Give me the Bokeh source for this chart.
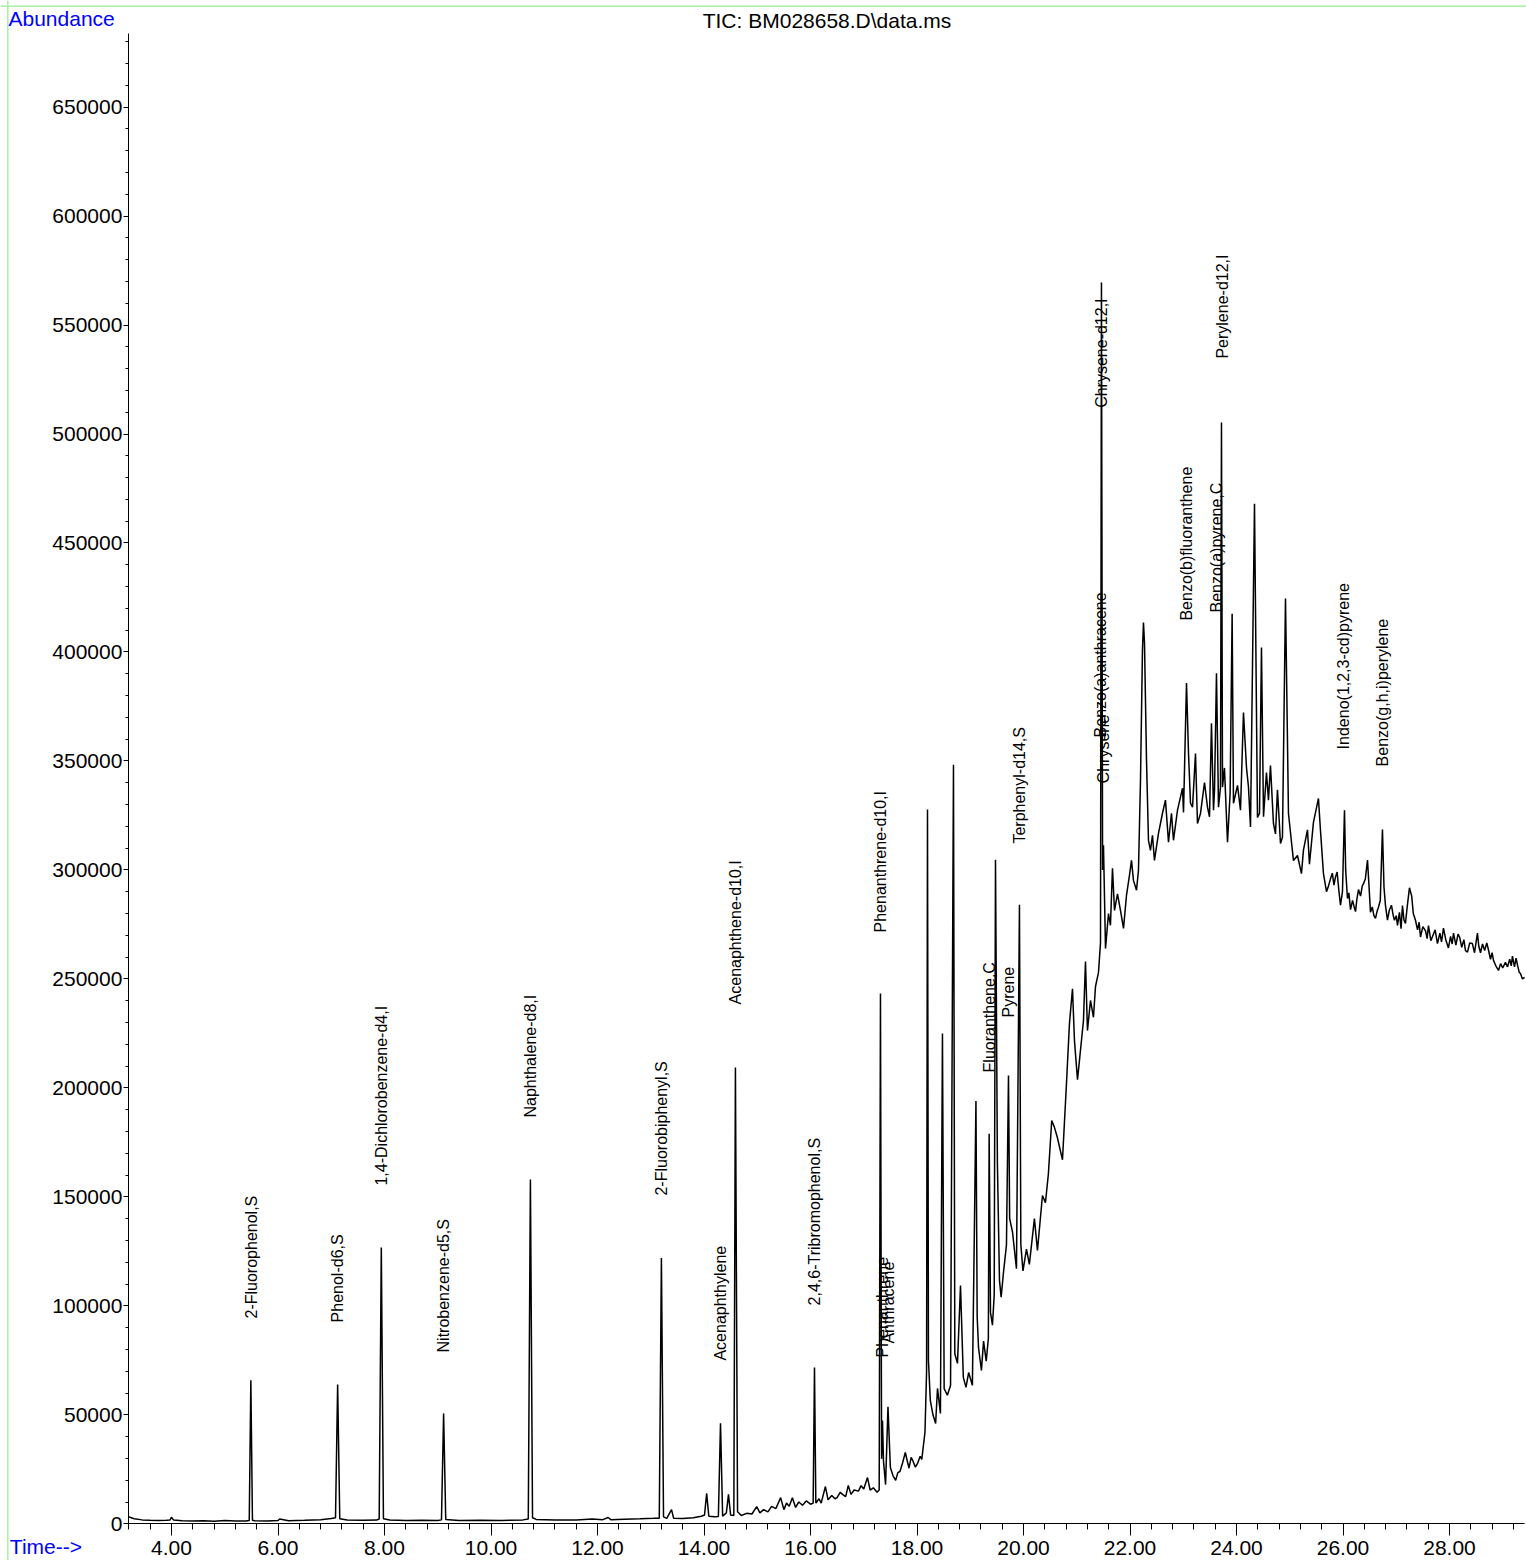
import math
from bokeh.plotting import figure
from bokeh.models import Range1d, SingleIntervalTicker, NumeralTickFormatter, Label, ColumnDataSource, Span
from bokeh.core.properties import value
from bokeh.embed import file_html
from bokeh.resources import INLINE

FONT = "Liberation Sans"

# ---- TIC trace (retention time in min, abundance) ----
rt1 = [3.19, 3.30, 3.45, 3.60, 3.75, 3.90, 3.97, 4.00, 4.04, 4.20,
       4.40, 4.60, 4.80, 5.00, 5.20, 5.40, 5.46, 5.49, 5.52, 5.56,
       5.80, 6.00, 6.03, 6.20, 6.50, 6.80, 7.00, 7.08, 7.12, 7.16,
       7.30, 7.60, 7.85, 7.90, 7.94, 7.98, 8.10, 8.40, 8.70, 9.00,
       9.07, 9.11, 9.15, 9.40, 9.80, 10.20, 10.60, 10.70, 10.74, 10.78,
       10.85, 11.20, 11.60, 11.90, 12.10, 12.20, 12.25, 12.50, 12.80, 13.05,
       13.16, 13.20, 13.24, 13.30, 13.39, 13.43, 13.60, 13.80, 13.95]
ab1 = [3200, 2300, 1800, 1600, 1500, 1600, 1700, 3000, 1700, 1400,
       1300, 1400, 1200, 1500, 1300, 1300, 1500, 65800, 1600, 1400,
       1300, 1500, 2200, 1400, 1600, 1900, 2400, 2800, 63900, 2300,
       1700, 1600, 1700, 2200, 126800, 2300, 1700, 1500, 1600, 1500,
       1800, 50600, 2000, 1500, 1600, 1500, 1800, 2200, 158000, 2800,
       2000, 1700, 1800, 2200, 1900, 2900, 1900, 2100, 2300, 2500,
       2600, 122000, 3200, 2500, 6500, 2500, 2400, 2800, 3500]

rt2 = [14.01, 14.05, 14.09, 14.20, 14.27, 14.31, 14.35, 14.42, 14.46, 14.50,
       14.56, 14.59, 14.63, 14.70, 14.80, 14.90, 14.99, 15.05, 15.12, 15.20,
       15.27, 15.35, 15.44, 15.50, 15.55, 15.60, 15.66, 15.72, 15.78, 15.85,
       15.92, 16.00, 16.05, 16.075, 16.10, 16.16, 16.20, 16.28, 16.33, 16.40,
       16.46, 16.50, 16.56, 16.60, 16.66, 16.71, 16.76, 16.82, 16.90, 16.95,
       17.00, 17.07, 17.12, 17.18, 17.25, 17.29, 17.314, 17.335, 17.352, 17.37,
       17.41, 17.455, 17.50, 17.55, 17.60, 17.64, 17.68, 17.73, 17.78, 17.85,
       17.89, 17.92, 17.97, 18.01, 18.06, 18.09, 18.12, 18.15]
ab2 = [4000, 14000, 3500, 3200, 3400, 46100, 3500, 5000, 13500, 4000,
       3800, 209300, 5500, 3800, 4800, 4500, 7900, 5000, 6500, 5500,
       8000, 7000, 12000, 6500, 9500, 8000, 12000, 7500, 10000, 8500,
       10500, 9000, 9500, 71700, 9500, 11500, 9500, 17100, 11000, 13000,
       11500, 12000, 14500, 13500, 12500, 17600, 13500, 15500, 15000, 17500,
       16000, 21200, 15500, 16500, 14500, 15500, 243300, 29800, 47400, 29000,
       18000, 53700, 25800, 22000, 19900, 23500, 24000, 28000, 32700, 25500,
       30500, 29000, 26000, 27700, 31000, 29500, 35900, 42000]

rt3 = [18.18, 18.197, 18.215, 18.25, 18.30, 18.35, 18.385, 18.44, 18.478, 18.51,
       18.57, 18.63, 18.685, 18.71, 18.76, 18.817, 18.87, 18.92, 18.97, 19.04,
       19.075, 19.107, 19.13, 19.155, 19.21, 19.25, 19.30, 19.34, 19.355, 19.38,
       19.417, 19.45, 19.474, 19.51, 19.549, 19.58, 19.624, 19.68, 19.718, 19.74,
       19.793, 19.868, 19.924, 19.95, 19.99, 20.056, 20.11, 20.205, 20.262, 20.356,
       20.412, 20.468, 20.53, 20.58, 20.638, 20.732, 20.807, 20.863, 20.92, 20.957,
       21.014, 21.051, 21.126, 21.164, 21.201, 21.258, 21.314, 21.352, 21.408, 21.446,
       21.464, 21.485, 21.502]
ab3 = [70000, 327700, 75000, 56600, 50000, 46000, 62100, 50600, 225000, 62000,
       59000, 63500, 348300, 78000, 73600, 109300, 67200, 62600, 69400, 63500,
       130000, 194000, 95000, 80900, 70400, 83800, 74600, 85000, 179000, 97000,
       91100, 105000, 304700, 165300, 111700, 104000, 115300, 128000, 205700, 140000,
       134000, 117000, 284000, 128000, 116000, 126000, 119000, 140000, 125400, 150600,
       147300, 160700, 185000, 182000, 177000, 167000, 202000, 229500, 245500, 221700,
       203800, 212600, 230800, 258000, 226300, 240100, 232400, 246500, 252900, 266600,
       569500, 300000, 311300]

rt4 = [21.54, 21.596, 21.633, 21.671, 21.709, 21.765, 21.821, 21.878, 21.934, 21.99,
       22.028, 22.065, 22.122, 22.159, 22.197, 22.234, 22.253, 22.272, 22.31, 22.347,
       22.384, 22.422, 22.459, 22.535, 22.61, 22.666, 22.723, 22.779, 22.816, 22.892,
       22.986, 23.005, 23.061, 23.099, 23.136, 23.174, 23.23, 23.267, 23.324, 23.399,
       23.455, 23.493, 23.53, 23.568, 23.587, 23.624, 23.662, 23.699, 23.718, 23.737,
       23.774, 23.831, 23.88, 23.918, 23.943, 24.019, 24.075, 24.131, 24.188, 24.225,
       24.263, 24.338, 24.394, 24.432, 24.469, 24.507, 24.563, 24.60, 24.638, 24.694,
       24.732, 24.769, 24.826, 24.863, 24.92, 24.976, 25.033, 25.07, 25.145, 25.22,
       25.258, 25.333, 25.37, 25.445, 25.539, 25.577, 25.633, 25.69]
ab4 = [264000, 280000, 274600, 300700, 281400, 289000, 281400, 273200, 288300, 297500,
       304400, 295200, 290700, 299800, 341100, 400700, 413500, 404300, 350300, 313600,
       309000, 315900, 304400, 316800, 326000, 332000, 312700, 326000, 313600, 327400,
       337500, 326400, 385700, 353400, 330600, 328800, 353400, 321300, 325900, 340100,
       328800, 324400, 367300, 327400, 336600, 390200, 328800, 338000, 505300, 338000,
       346800, 312700, 335000, 417500, 330600, 338800, 327400, 372200, 346800, 338000,
       319700, 468000, 324100, 325900, 402000, 324400, 344700, 332000, 347900, 321300,
       316500, 336800, 312100, 315000, 424500, 325900, 312700, 304300, 306600, 298300,
       309200, 318400, 302600, 321800, 332800, 318100, 298300, 290000]

rt4b = [25.72, 25.765, 25.80, 25.83, 25.859, 25.89, 25.92, 25.953, 25.99, 26.028,
        26.05, 26.084, 26.11, 26.141, 26.18, 26.21, 26.235, 26.26, 26.291, 26.33,
        26.36, 26.385, 26.42, 26.46, 26.49, 26.516, 26.55, 26.58, 26.61, 26.64,
        26.666, 26.70, 26.741, 26.77, 26.797, 26.835, 26.87, 26.91, 26.94, 26.966,
        27.00]
ab4b = [292000, 295900, 298500, 293000, 296800, 299000, 291000, 283800, 290000, 327400,
        300000, 286900, 289500, 281800, 286000, 283000, 280900, 286500, 291000, 288000,
        292500, 293700, 296000, 304500, 292000, 280600, 283000, 279000, 277800, 281000,
        282900, 286000, 318500, 292000, 283800, 277000, 281500, 283800, 279500, 276900,
        279000]

rt5 = [27.023, 27.06, 27.09, 27.117, 27.145, 27.173, 27.21, 27.248, 27.29, 27.32,
       27.361, 27.40, 27.43, 27.455, 27.50, 27.55, 27.58, 27.605, 27.65, 27.69,
       27.73, 27.774, 27.82, 27.85, 27.887, 27.93, 27.98, 28.02, 28.05, 28.075,
       28.12, 28.16, 28.19, 28.23, 28.27, 28.30, 28.338, 28.38, 28.43, 28.47,
       28.50, 28.525, 28.55, 28.582, 28.62, 28.66, 28.70, 28.73, 28.77, 28.80,
       28.826, 28.87, 28.92, 28.96, 29.00, 29.05, 29.09, 29.13, 29.16, 29.182,
       29.22, 29.25, 29.28, 29.31, 29.333, 29.37, 29.41]
ab5 = [274500, 280500, 273000, 283600, 277000, 275400, 284000, 291800, 288000, 280000,
       276900, 272500, 276000, 269200, 274000, 272000, 268500, 274500, 267500, 270000,
       272500, 266200, 271000, 267000, 273300, 268000, 264200, 269500, 266000, 271000,
       265500, 270500, 269200, 264500, 268000, 263000, 262300, 266500, 266200, 262000,
       267000, 271000, 265000, 262000, 266000, 263000, 266500, 263500, 259000, 262000,
       258500, 256000, 253900, 257000, 255000, 257600, 255500, 259000, 256000, 260500,
       255500, 259500, 256000, 253000, 252500, 250000, 250700]

# ---- compound annotations (retention time, abundance at label start) ----
compounds = ["2-Fluorophenol,S", "Phenol-d6,S", "1,4-Dichlorobenzene-d4,I", "Nitrobenzene-d5,S",
             "Naphthalene-d8,I", "2-Fluorobiphenyl,S", "Acenaphthylene", "Acenaphthene-d10,I",
             "2,4,6-Tribromophenol,S", "Phenanthrene-d10,I", "Phenanthrene", "Anthracene",
             "Fluoranthene,C", "Pyrene", "Terphenyl-d14,S", "Chrysene-d12,I",
             "Benzo(a)anthracene", "Chrysene", "Benzo(b)fluoranthene", "Benzo(a)pyrene,C",
             "Perylene-d12,I", "Indeno(1,2,3-cd)pyrene", "Benzo(g,h,i)perylene"]
label_rt = [5.50, 7.117, 7.944, 9.108, 10.742, 13.202, 14.309, 14.591,
            16.075, 17.314, 17.351, 17.464, 19.361, 19.718, 19.925, 21.464,
            21.446, 21.502, 23.061, 23.624, 23.737, 26.018, 26.741]
label_ab = [94200, 92400, 155200, 78600, 186400, 150600, 74900, 238300,
            100200, 271300, 76300, 82700, 207100, 232300, 312100, 512000,
            360800, 339700, 414400, 418100, 534600, 355300, 347500]

rt = rt1 + rt2 + rt3 + rt4 + rt4b + rt5
abundance = ab1 + ab2 + ab3 + ab4 + ab4b + ab5
assert len(rt) == len(abundance)

# axis extents
RT_START, RT_END = 3.19, 29.41
AB_MAX = 683600

# the frame covers the whole canvas; axes are drawn at fixed locations inside it
p = figure(width=1526, height=1560, output_backend="svg", toolbar_location=None,
           title=None, x_range=Range1d(0.7887, 29.446), y_range=Range1d(-16838, 698890),
           min_border=0, min_border_left=0, min_border_right=0,
           min_border_top=0, min_border_bottom=0,
           background_fill_color="white", border_fill_color="white")
p.outline_line_color = None
p.xgrid.visible = False
p.ygrid.visible = False

p.xaxis.ticker = SingleIntervalTicker(interval=2, num_minor_ticks=5)
p.xaxis.formatter = NumeralTickFormatter(format="0.00")
p.yaxis.ticker = SingleIntervalTicker(interval=50000, num_minor_ticks=5)
p.yaxis.formatter = NumeralTickFormatter(format="0")
p.xaxis.fixed_location = 0
p.xaxis.bounds = (RT_START, RT_END)
p.yaxis.fixed_location = RT_START
p.yaxis.bounds = (0, AB_MAX)

for ax in (p.xaxis[0], p.yaxis[0]):
    ax.axis_line_color = "black"
    ax.axis_line_width = 1
    ax.major_tick_line_color = "black"
    ax.minor_tick_line_color = "black"
    ax.major_tick_in = 0
    ax.minor_tick_in = 0
    ax.major_label_text_font = FONT
    ax.major_label_text_font_size = "21px"
    ax.major_label_text_color = "black"

p.xaxis.major_tick_out = 12
p.xaxis.minor_tick_out = 6
p.xaxis.major_label_standoff = 5
p.yaxis.major_tick_out = 5
p.yaxis.minor_tick_out = 3
p.yaxis.major_label_standoff = 1

# light green page frame
p.add_layout(Span(location=0.926, dimension="height", line_color="#a8f0a8", line_width=1.5))
p.add_layout(Span(location=696300, dimension="width", line_color="#a8f0a8", line_width=1.5))

p.line(rt, abundance, line_color="black", line_width=1.5)

src = ColumnDataSource(dict(x=label_rt, y=label_ab, t=compounds))
p.text(x="x", y="y", text="t", source=src, angle=math.pi / 2,
       text_align="left", text_baseline="middle",
       text_font=value(FONT), text_font_size="16px", text_color="black")

p.add_layout(Label(x=0.939, y=690630, text="Abundance", text_color="#0000ff",
                   text_font=FONT, text_font_size="21px",
                   text_align="left", text_baseline="alphabetic"))
p.add_layout(Label(x=16.31, y=689570, text="TIC: BM028658.D\\data.ms", text_color="black",
                   text_font=FONT, text_font_size="21px",
                   text_align="center", text_baseline="alphabetic"))
p.add_layout(Label(x=0.964, y=-10300, text="Time-->", text_color="#0000ff",
                   text_font=FONT, text_font_size="21px",
                   text_align="left", text_baseline="alphabetic"))

open("out.html", "w").write(file_html(p, INLINE))
